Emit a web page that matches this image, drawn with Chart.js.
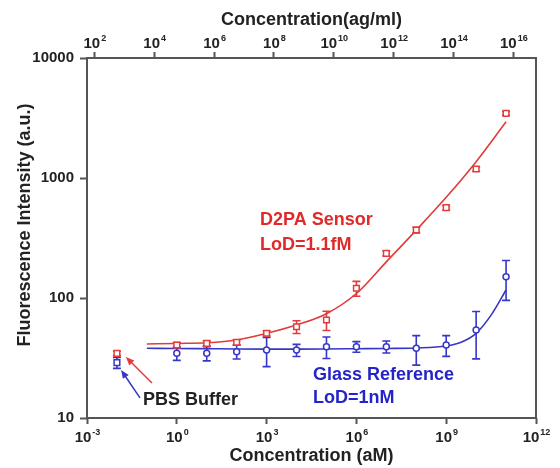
<!DOCTYPE html>
<html>
<head>
<meta charset="utf-8">
<script src="https://cdn.jsdelivr.net/npm/chart.js@4/dist/chart.umd.min.js"></script>
<style>
  html, body { margin: 0; padding: 0; background: #ffffff; }
</style>
</head>
<body>
<canvas id="chart" width="560" height="468"></canvas>
<script>
// measured points, concentration in aM
const concentrations = [1, 10, 100, 1e3, 1e4, 1e5, 1e6, 1e7, 1e8, 1e9, 1e10, 1e11];
const d2paMean = [40.6, 41.9, 42.8, 50.8, 57.6, 65.6, 120.5, 235.7, 368.6, 565.8, 1189, 3459];
const d2paErr = [2, 2, 2, 2.5, 7, 12, 17, 12, 20, 25, 50, 120];
const glassMean = [34.6, 34.6, 35.7, 36.8, 36.8, 39.3, 39.3, 39.3, 38.1, 40.6, 54.1, 150.6];
const glassErr = [4.4, 4.7, 4.7, 10, 4.3, 8, 4, 4.5, 10.5, 8, 23, 55];

// PBS buffer blanks
const pbsConc = [0.01];
const pbsD2pa = [34.6];
const pbsD2paErr = [1.5];
const pbsGlass = [28.9];
const pbsGlassErr = [3];

// fitted curves
const d2paFitConc = [0.1, 1, 10, 100, 1e3, 1e4, 1e5, 1e6, 1e7, 1e8, 1e9, 1e10, 1e11];
const d2paFitValue = [41.4, 41.8, 42.4, 44.7, 50.8, 59.6, 74, 109, 200, 368, 690, 1368, 2945];
const glassFitConc = [0.1, 1, 10, 100, 1e3, 1e4, 1e5, 1e6, 1e7, 1e8, 1e9, 3.16e9, 1e10, 3.16e10, 1e11];
const glassFitValue = [38.1, 38.0, 37.8, 37.6, 37.5, 37.5, 37.6, 37.8, 38.0, 38.3, 39.8, 42.8, 50.8, 72, 116.6];

// axes
const xTicks = [1e-3, 1, 1e3, 1e6, 1e9, 1e12];
const topTicks = [1e2, 1e4, 1e6, 1e8, 1e10, 1e12, 1e14, 1e16];
const yTicks = [10, 100, 1000, 10000];
const agPerAm = Math.pow(10, 4.756); // shift of the top axis as drawn in the figure

const RED = '#e23b3b';
const BLUE = '#3636c8';
const AXIS = '#555555';
const FONT = '"Liberation Sans", Arial, sans-serif';

const toPoints = (xs, ys) => xs.map((x, i) => ({ x, y: ys[i] }));

const errorBars = {
  id: 'errorBars',
  beforeDatasetDraw(chart, args) {
    const ds = chart.data.datasets[args.index];
    if (!ds.errors) return;
    const { x, y } = chart.scales;
    const ctx = chart.ctx;
    ctx.save();
    ctx.strokeStyle = ds.borderColor;
    ctx.lineWidth = 1.6;
    ds.data.forEach((p, i) => {
      const e = ds.errors[i];
      const px = x.getPixelForValue(p.x);
      const top = y.getPixelForValue(p.y + e);
      const bot = y.getPixelForValue(p.y - e);
      ctx.beginPath();
      ctx.moveTo(px, top); ctx.lineTo(px, bot);
      ctx.moveTo(px - 4, top); ctx.lineTo(px + 4, top);
      ctx.moveTo(px - 4, bot); ctx.lineTo(px + 4, bot);
      ctx.stroke();
    });
    ctx.restore();
  }
};

function drawPowerAt(ctx, value, cx, baseline) {
  const exp = String(Math.round(Math.log10(value)));
  ctx.font = 'bold 15px ' + FONT;
  const wb = ctx.measureText('10').width;
  ctx.font = 'bold 9px ' + FONT;
  const we = ctx.measureText(exp).width;
  const x0 = cx - (wb + we) / 2;
  ctx.textAlign = 'left';
  ctx.textBaseline = 'alphabetic';
  ctx.font = 'bold 15px ' + FONT;
  ctx.fillText('10', x0, baseline);
  ctx.font = 'bold 9px ' + FONT;
  ctx.fillText(exp, x0 + wb + 1, baseline - 7);
}

function drawArrow(ctx, x1, y1, x2, y2, color) {
  const ang = Math.atan2(y2 - y1, x2 - x1);
  ctx.strokeStyle = color;
  ctx.fillStyle = color;
  ctx.lineWidth = 1.5;
  ctx.beginPath();
  ctx.moveTo(x1, y1);
  ctx.lineTo(x2 - 6 * Math.cos(ang), y2 - 6 * Math.sin(ang));
  ctx.stroke();
  ctx.beginPath();
  ctx.moveTo(x2, y2);
  ctx.lineTo(x2 - 9 * Math.cos(ang - 0.4), y2 - 9 * Math.sin(ang - 0.4));
  ctx.lineTo(x2 - 9 * Math.cos(ang + 0.4), y2 - 9 * Math.sin(ang + 0.4));
  ctx.closePath();
  ctx.fill();
}

const decorations = {
  id: 'decorations',
  afterDraw(chart) {
    const { ctx, chartArea: a } = chart;
    const { x, x2, y } = chart.scales;
    ctx.save();

    // frame
    ctx.strokeStyle = AXIS;
    ctx.lineWidth = 2;
    ctx.strokeRect(a.left, a.top, a.right - a.left, a.bottom - a.top);

    // tick labels
    ctx.fillStyle = '#222222';
    xTicks.forEach(v => drawPowerAt(ctx, v, x.getPixelForValue(v), a.bottom + 24));
    topTicks.forEach(v => drawPowerAt(ctx, v, x2.getPixelForValue(v), a.top - 10));

    ctx.font = 'bold 15px ' + FONT;
    ctx.textAlign = 'right';
    ctx.textBaseline = 'middle';
    yTicks.forEach(v => ctx.fillText(String(v), a.left - 13, y.getPixelForValue(v)));

    // axis titles
    ctx.font = 'bold 18px ' + FONT;
    ctx.textAlign = 'center';
    ctx.textBaseline = 'alphabetic';
    const cx = (a.left + a.right) / 2;
    ctx.fillText('Concentration (aM)', cx, a.bottom + 43);
    ctx.fillText('Concentration(ag/ml)', cx, a.top - 33);
    ctx.save();
    ctx.translate(25, a.top + 167);
    ctx.rotate(-Math.PI / 2);
    ctx.textBaseline = 'middle';
    ctx.fillText('Fluorescence Intensity (a.u.)', 0, 0);
    ctx.restore();

    // annotations
    const px = v => x.getPixelForValue(v);
    const py = v => y.getPixelForValue(v);
    ctx.textAlign = 'left';
    ctx.fillStyle = '#e02a2a';
    ctx.fillText('D2PA Sensor', px(Math.pow(10, 2.78)), py(405));
    ctx.fillText('LoD=1.1fM', px(Math.pow(10, 2.78)), py(251));
    ctx.fillStyle = '#2424c8';
    ctx.fillText('Glass Reference', px(Math.pow(10, 4.55)), py(20.7));
    ctx.fillText('LoD=1nM', px(Math.pow(10, 4.55)), py(13.3));
    ctx.fillStyle = '#222222';
    ctx.fillText('PBS Buffer', px(Math.pow(10, -1.13)), py(12.8));

    drawArrow(ctx, px(Math.pow(10, -0.83)), py(19.6), px(Math.pow(10, -1.7)), py(32.2), RED);
    drawArrow(ctx, px(Math.pow(10, -1.23)), py(14.7), px(Math.pow(10, -1.86)), py(25.1), BLUE);

    ctx.restore();
  }
};

function axisGrid(len) {
  return {
    display: true,
    drawOnChartArea: false,
    drawTicks: true,
    tickLength: len,
    tickWidth: 2,
    tickColor: AXIS
  };
}

new Chart(document.getElementById('chart'), {
  type: 'scatter',
  data: {
    datasets: [
      {
        label: 'D2PA fit',
        data: toPoints(d2paFitConc, d2paFitValue),
        showLine: true,
        borderColor: RED,
        borderWidth: 1.6,
        pointRadius: 0,
        cubicInterpolationMode: 'monotone',
        order: 3
      },
      {
        label: 'Glass fit',
        data: toPoints(glassFitConc, glassFitValue),
        showLine: true,
        borderColor: BLUE,
        borderWidth: 1.6,
        pointRadius: 0,
        cubicInterpolationMode: 'monotone',
        order: 4
      },
      {
        label: 'Glass Reference',
        data: toPoints(concentrations, glassMean),
        errors: glassErr,
        borderColor: BLUE,
        backgroundColor: '#ffffff',
        pointStyle: 'circle',
        pointRadius: 3,
        borderWidth: 1.5,
        order: 2
      },
      {
        label: 'D2PA Sensor',
        data: toPoints(concentrations, d2paMean),
        errors: d2paErr,
        borderColor: RED,
        backgroundColor: '#ffffff',
        pointStyle: 'rect',
        pointRadius: 4,
        borderWidth: 1.5,
        order: 1
      },
      {
        label: 'PBS Glass',
        data: toPoints(pbsConc, pbsGlass),
        errors: pbsGlassErr,
        borderColor: BLUE,
        backgroundColor: '#ffffff',
        pointStyle: 'rect',
        pointRadius: 4,
        borderWidth: 1.5,
        order: 2
      },
      {
        label: 'PBS D2PA',
        data: toPoints(pbsConc, pbsD2pa),
        errors: pbsD2paErr,
        borderColor: RED,
        backgroundColor: '#ffffff',
        pointStyle: 'rect',
        pointRadius: 4,
        borderWidth: 1.5,
        order: 1
      }
    ]
  },
  options: {
    responsive: false,
    animation: false,
    layout: { padding: { left: 0, right: 24, top: 0, bottom: 0 } },
    plugins: {
      legend: { display: false },
      tooltip: { enabled: false }
    },
    scales: {
      x: {
        type: 'logarithmic',
        position: 'bottom',
        min: 1e-3,
        max: 1e12,
        afterBuildTicks: s => { s.ticks = xTicks.map(value => ({ value })); },
        afterFit: s => { s.height = 50; },
        ticks: { display: false },
        grid: axisGrid(6),
        border: { display: false }
      },
      x2: {
        type: 'logarithmic',
        position: 'top',
        min: 1e-3 * agPerAm,
        max: 1e12 * agPerAm,
        afterBuildTicks: s => { s.ticks = topTicks.map(value => ({ value })); },
        afterFit: s => { s.height = 58; },
        ticks: { display: false },
        grid: axisGrid(6),
        border: { display: false }
      },
      y: {
        type: 'logarithmic',
        position: 'left',
        min: 10,
        max: 10000,
        afterBuildTicks: s => { s.ticks = yTicks.map(value => ({ value })); },
        afterFit: s => { s.width = 87; },
        ticks: { display: false },
        grid: axisGrid(7),
        border: { display: false }
      }
    }
  },
  plugins: [errorBars, decorations]
});
</script>
</body>
</html>
